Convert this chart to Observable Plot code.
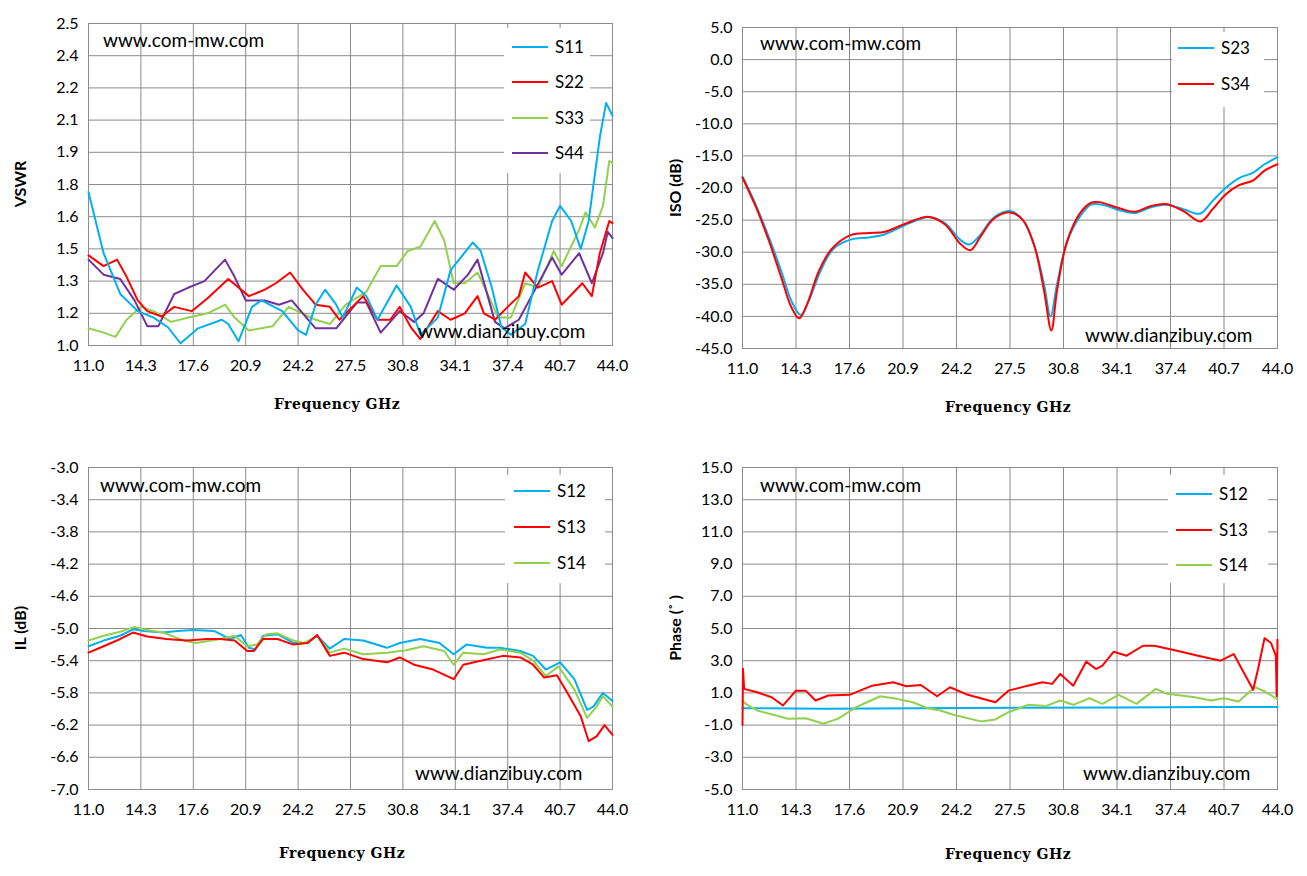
<!DOCTYPE html>
<html><head><meta charset="utf-8">
<script src="https://cdn.jsdelivr.net/npm/d3@7"></script>
<script src="https://cdn.jsdelivr.net/npm/@observablehq/plot@0.6"></script>
<style>
body{margin:0;background:#fff;}
#wrap{position:relative;width:1307px;height:876px;font-family:Lato,"Open Sans",sans-serif;}
.pnl{position:absolute;}
.t{position:absolute;white-space:nowrap;color:#000;}
.wm{font-size:19px;}
.xt{font-family:"DejaVu Serif",serif;font-weight:bold;font-size:14px;letter-spacing:0.5px;transform:translateX(-50%);}
.yt{font-weight:bold;font-size:16px;transform:translate(-50%,-50%) rotate(-90deg);}
.leg{position:absolute;background:#fff;}
.li{position:absolute;font-size:17px;display:flex;align-items:center;}
.li span.l{display:inline-block;width:36px;height:0;border-top:2.5px solid;margin-right:7px;}
</style></head><body><div id="wrap"></div>
<script>
// ---- tick labels ----
const freqTicks = [11.0,14.3,17.6,20.9,24.2,27.5,30.8,34.1,37.4,40.7,44.0];
const vswrTicks = [1.0,1.15,1.3,1.45,1.6,1.75,1.9,2.05,2.2,2.35,2.5];
const isoTicks = [5,0,-5,-10,-15,-20,-25,-30,-35,-40,-45];
const ilTicks = [-3.0,-3.4,-3.8,-4.2,-4.6,-5.0,-5.4,-5.8,-6.2,-6.6,-7.0];
const phaseTicks = [15,13,11,9,7,5,3,1,-1,-3,-5];

// ---- VSWR ----
const S11 = [[11,1.715],[11.95,1.43],[13,1.24],[14.1,1.16],[15.1,1.13],[16,1.085],[16.8,1.01],[17.9,1.08],[19.4,1.12],[19.8,1.10],[20.45,1.02],[21.3,1.18],[21.9,1.21],[23.2,1.16],[24.2,1.07],[24.7,1.05],[25.3,1.19],[25.9,1.26],[26.6,1.19],[27,1.13],[27.9,1.27],[28.5,1.23],[29.2,1.12],[30.4,1.28],[31.3,1.18],[31.9,1.05],[33,1.13],[33.8,1.35],[35.2,1.48],[35.7,1.44],[36.4,1.27],[37,1.085],[37.6,1.05],[38.5,1.10],[39.3,1.35],[40.2,1.58],[40.7,1.65],[41.4,1.58],[42,1.45],[42.5,1.58],[43.2,1.97],[43.6,2.13],[44,2.07]];
const S22 = [[11,1.42],[11.95,1.37],[12.8,1.40],[13.4,1.32],[14.1,1.21],[14.7,1.16],[15.6,1.135],[16.4,1.18],[17.5,1.16],[18.5,1.22],[19.8,1.31],[20.45,1.27],[21.1,1.23],[22.1,1.26],[22.8,1.29],[23.7,1.34],[24.5,1.26],[25.3,1.19],[26.2,1.18],[26.8,1.12],[28.3,1.23],[29.2,1.12],[30,1.12],[30.6,1.18],[31.3,1.085],[31.9,1.03],[33,1.16],[33.8,1.12],[34.7,1.15],[35.5,1.23],[35.9,1.15],[36.6,1.12],[37.4,1.18],[38.1,1.23],[38.5,1.34],[39.3,1.27],[40.2,1.30],[40.8,1.19],[42.1,1.29],[42.7,1.23],[43.2,1.43],[43.8,1.58],[44,1.57]];
const S33 = [[11,1.08],[11.95,1.06],[12.7,1.04],[13.4,1.12],[14.3,1.18],[15.1,1.16],[16.2,1.11],[17.3,1.13],[18.5,1.15],[19.6,1.19],[20.2,1.13],[21.1,1.07],[22.6,1.09],[23.6,1.18],[25.3,1.12],[26.2,1.10],[27.2,1.19],[28.5,1.25],[29.4,1.37],[30.4,1.37],[31.1,1.44],[31.9,1.46],[32.8,1.58],[33.4,1.49],[34,1.29],[34.7,1.29],[35.5,1.34],[36.2,1.23],[36.8,1.13],[37.6,1.13],[38.5,1.29],[39.3,1.27],[40.3,1.44],[40.8,1.37],[41.9,1.54],[42.3,1.62],[42.9,1.55],[43.4,1.65],[43.8,1.86],[44,1.85]];
const S44 = [[11,1.40],[11.95,1.33],[13,1.31],[13.9,1.21],[14.7,1.09],[15.4,1.09],[16.4,1.24],[17.3,1.27],[18.3,1.30],[19.6,1.40],[20.2,1.32],[20.9,1.21],[22.1,1.21],[23,1.19],[23.8,1.21],[25.3,1.08],[26.6,1.08],[27.9,1.20],[28.5,1.20],[29.4,1.06],[30.6,1.16],[31.5,1.11],[32.1,1.15],[33,1.31],[34,1.26],[34.9,1.33],[35.5,1.40],[36.6,1.11],[37.2,1.08],[38.1,1.12],[38.9,1.23],[40.2,1.41],[40.8,1.33],[41.9,1.43],[42.7,1.29],[43.4,1.43],[43.7,1.53],[44,1.50]];

// ---- ISO ----
const S23 = [[11,-18.2],[11.8,-22.5],[12.6,-27.5],[13.4,-33],[14,-37.5],[14.6,-39.8],[15.1,-37.5],[15.8,-33],[16.6,-29.5],[17.7,-28],[18.8,-27.7],[19.8,-27.2],[21,-25.8],[22.5,-24.5],[23.5,-25.5],[24.4,-28],[25,-28.8],[25.6,-27.5],[26.5,-24.6],[27.5,-23.6],[28.3,-25],[29,-29],[29.6,-35],[30,-40],[30.4,-35],[31,-28.5],[31.8,-24.5],[32.5,-22.6],[33.2,-22.6],[34.3,-23.5],[35.2,-23.9],[36.2,-23],[37.1,-22.6],[38.2,-23.3],[39.2,-24],[40,-22],[40.8,-20],[41.6,-18.5],[42.5,-17.6],[43.2,-16.3],[44,-15.2]];
const S34 = [[11,-18.4],[11.8,-22.8],[12.6,-28],[13.4,-34],[14,-38.5],[14.5,-40.3],[15,-38],[15.7,-33],[16.5,-29.5],[17.7,-27.3],[18.8,-27],[19.8,-26.8],[21,-25.6],[22.5,-24.5],[23.5,-25.7],[24.4,-28.6],[25.05,-29.7],[25.7,-27.5],[26.5,-24.8],[27.5,-23.8],[28.3,-25],[29,-29],[29.6,-36],[30.05,-42.2],[30.4,-36],[31,-28.5],[31.8,-24],[32.5,-22.3],[33,-22.2],[34.3,-23.2],[35.2,-23.7],[36.2,-22.8],[37.1,-22.5],[38.2,-23.6],[39.25,-25.2],[40,-23.3],[40.8,-21],[41.6,-19.6],[42.5,-18.8],[43.2,-17.3],[44,-16.3]];

// ---- IL ----
const IL12 = [[11,-5.22],[11.95,-5.15],[13,-5.09],[13.8,-5.01],[14.5,-5.03],[15.7,-5.05],[16.6,-5.03],[17.6,-5.02],[18.9,-5.03],[19.9,-5.13],[20.6,-5.08],[21.1,-5.24],[21.5,-5.26],[22,-5.09],[22.9,-5.07],[23.9,-5.18],[24.8,-5.18],[25.4,-5.09],[26.2,-5.25],[27.1,-5.13],[28.3,-5.15],[29.8,-5.24],[30.6,-5.18],[31.9,-5.13],[33.1,-5.18],[34,-5.32],[34.8,-5.20],[36.1,-5.24],[36.9,-5.24],[38.2,-5.28],[39,-5.34],[39.8,-5.51],[40.7,-5.42],[41.6,-5.63],[42.4,-6.01],[42.8,-5.97],[43.4,-5.80],[44,-5.9]];
const IL13 = [[11,-5.3],[11.95,-5.22],[13,-5.13],[13.8,-5.05],[14.7,-5.1],[15.9,-5.13],[17.2,-5.15],[18.5,-5.13],[19.3,-5.13],[20.2,-5.15],[21,-5.28],[21.4,-5.28],[22,-5.13],[22.9,-5.13],[23.9,-5.2],[24.8,-5.18],[25.4,-5.08],[26.2,-5.34],[27.1,-5.3],[28.3,-5.38],[29.8,-5.42],[30.6,-5.36],[31.5,-5.45],[32.7,-5.51],[34,-5.63],[34.6,-5.45],[35.7,-5.4],[37.1,-5.34],[38.2,-5.36],[39,-5.45],[39.7,-5.61],[40.5,-5.58],[41.1,-5.78],[42,-6.09],[42.5,-6.4],[43,-6.34],[43.5,-6.2],[44,-6.32]];
const IL14 = [[11,-5.15],[11.95,-5.09],[13,-5.04],[13.9,-4.98],[14.7,-5.02],[15.7,-5.05],[17,-5.15],[17.8,-5.18],[19.3,-5.13],[20.2,-5.09],[21,-5.22],[21.6,-5.2],[22.2,-5.07],[22.9,-5.06],[23.9,-5.15],[24.6,-5.18],[25.4,-5.09],[26.2,-5.3],[27.1,-5.25],[28.3,-5.32],[29.8,-5.3],[31,-5.27],[32.1,-5.22],[33.4,-5.28],[34,-5.45],[34.6,-5.3],[35.9,-5.32],[36.9,-5.26],[38.2,-5.3],[39,-5.4],[39.8,-5.59],[40.6,-5.47],[41.6,-5.76],[42.4,-6.11],[43,-5.97],[43.4,-5.84],[44,-5.97]];

// ---- Phase ----
const P12 = [[11,0.05],[16,0.02],[22,0.05],[28,0.08],[34,0.1],[40,0.12],[44,0.12]];
const P13 = [[11,-1.0],[11.03,2.5],[11.1,1.25],[11.9,1.04],[12.8,0.73],[13.5,0.22],[14.3,1.14],[14.9,1.14],[15.5,0.53],[16.3,0.84],[17.6,0.88],[19,1.45],[20.3,1.66],[21.1,1.41],[22,1.49],[23,0.79],[23.8,1.35],[24.9,0.88],[26.6,0.42],[27.4,1.14],[28.6,1.45],[29.5,1.66],[30.1,1.56],[30.6,2.18],[31.4,1.45],[32.2,2.94],[32.8,2.48],[33.2,2.69],[33.9,3.56],[34.7,3.31],[35.7,3.93],[36.4,3.93],[37.8,3.62],[39.1,3.31],[40.5,3.0],[41.3,3.41],[41.8,2.48],[42.5,1.2],[42.8,2.48],[43.2,4.4],[43.6,4.1],[43.9,3.3],[43.95,0.8],[44,4.3]];
const P14 = [[11,0.5],[11.2,0.32],[11.9,-0.09],[13.8,-0.6],[14.9,-0.57],[16,-0.92],[16.9,-0.6],[18,0.11],[19.5,0.79],[20.5,0.63],[21.5,0.42],[22.4,0.05],[23.2,-0.09],[24,-0.36],[25.7,-0.77],[26.6,-0.65],[27.4,-0.2],[28.6,0.26],[29.7,0.18],[30.6,0.53],[31.4,0.26],[32.4,0.67],[33.2,0.32],[34.2,0.88],[35.3,0.32],[36.5,1.25],[37.2,0.94],[38.9,0.73],[39.9,0.53],[40.7,0.67],[41.6,0.46],[42.6,1.35],[43.2,1.1],[44,0.6]];

const BLUE="#00b0f0", RED="#ff0000", GREEN="#92d050", PURPLE="#7030a0";
const rows = arr => arr.map(([x,y])=>({x,y}));
const fmt1 = d => (Math.round(d*10+1e-6*Math.sign(d||1))/10).toFixed(1);

function panel({left,top,width,height,ml,mr,mt,mb,ydom,yticks,series,curve}){
  const svg = Plot.plot({
    width,height,marginLeft:ml,marginRight:mr,marginTop:mt,marginBottom:mb,
    style:{fontFamily:"Lato, 'Open Sans', sans-serif",fontSize:"16px",color:"#000",background:"#fff"},
    x:{domain:[11,44],ticks:freqTicks,tickFormat:d=>d.toFixed(1),label:null,tickSize:0,tickPadding:14},
    y:{domain:ydom,ticks:yticks,tickFormat:fmt1,label:null,tickSize:0,tickPadding:10},
    marks:[
      Plot.gridX(freqTicks,{stroke:"#8c8c8c",strokeOpacity:1,strokeWidth:1}),
      Plot.gridY(yticks,{stroke:"#8c8c8c",strokeOpacity:1,strokeWidth:1}),
      Plot.frame({stroke:"#8c8c8c"}),
      ...series.map(([d,c])=>Plot.line(rows(d),{x:"x",y:"y",stroke:c,strokeWidth:2,curve:curve||"linear"})),
      Plot.axisX({ticks:freqTicks,tickFormat:d=>d.toFixed(1),tickSize:0,tickPadding:14,fontSize:16}),
      Plot.axisY({ticks:yticks,tickFormat:fmt1,tickSize:0,tickPadding:10,fontSize:16})
    ]
  });
  svg.classList.add("pnl");
  svg.style.left=left+"px"; svg.style.top=top+"px";
  document.getElementById("wrap").appendChild(svg);
}
panel({left:0,top:0,width:650,height:420,ml:88,mr:38,mt:23,mb:75,ydom:[1,2.5],yticks:vswrTicks,series:[[S33,GREEN],[S44,PURPLE],[S22,RED],[S11,BLUE]]});
panel({left:650,top:0,width:657,height:420,ml:92,mr:30,mt:27,mb:72,ydom:[-45,5],yticks:isoTicks,series:[[S23,BLUE],[S34,RED]],curve:"catmull-rom"});
panel({left:0,top:440,width:650,height:436,ml:88,mr:38,mt:27,mb:87,ydom:[-7,-3],yticks:ilTicks,series:[[IL12,BLUE],[IL14,GREEN],[IL13,RED]]});
panel({left:650,top:440,width:657,height:436,ml:92,mr:30,mt:27,mb:87,ydom:[-5,15],yticks:phaseTicks,series:[[P12,BLUE],[P14,GREEN],[P13,RED]]});

const wrap=document.getElementById("wrap");
function txt(cls,x,y,s){const e=document.createElement("div");e.className="t "+cls;e.style.left=x+"px";e.style.top=y+"px";e.textContent=s;wrap.appendChild(e);}
txt("wm",103,28,"www.com-mw.com"); txt("wm",760,31,"www.com-mw.com");
txt("wm",100,473,"www.com-mw.com"); txt("wm",760,473,"www.com-mw.com");
txt("wm",418,319,"www.dianzibuy.com"); txt("wm",1085,323,"www.dianzibuy.com");
txt("wm",415,761,"www.dianzibuy.com"); txt("wm",1083,761,"www.dianzibuy.com");
txt("xt",337,396,"Frequency GHz"); txt("xt",1008,399,"Frequency GHz");
txt("xt",342,845,"Frequency GHz"); txt("xt",1008,846,"Frequency GHz");
txt("yt",19,184,"VSWR"); txt("yt",674,188,"ISO (dB)");
txt("yt",19,628,"IL (dB)"); txt("yt",674,628,"Phase (˚ )");

function legend(x,y,w,h,items,lx,ys){
  const b=document.createElement("div");b.className="leg";
  Object.assign(b.style,{left:x+"px",top:y+"px",width:w+"px",height:h+"px"});wrap.appendChild(b);
  items.forEach(([name,c],i)=>{const e=document.createElement("div");e.className="li";
    e.style.left=lx+"px";e.style.top=(ys[i]-11)+"px";
    e.innerHTML=`<span class="l" style="border-color:${c}"></span>${name}`;wrap.appendChild(e);});
}
legend(504,28,86,145,[["S11",BLUE],["S22",RED],["S33",GREEN],["S44",PURPLE]],512,[47,82,118,153]);
legend(1172,32,92,75,[["S23",BLUE],["S34",RED]],1178,[48,84]);
legend(505,475,100,108,[["S12",BLUE],["S13",RED],["S14",GREEN]],514,[491,527,563]);
legend(1168,475,100,108,[["S12",BLUE],["S13",RED],["S14",GREEN]],1176,[494,530,565]);
</script></body></html>
